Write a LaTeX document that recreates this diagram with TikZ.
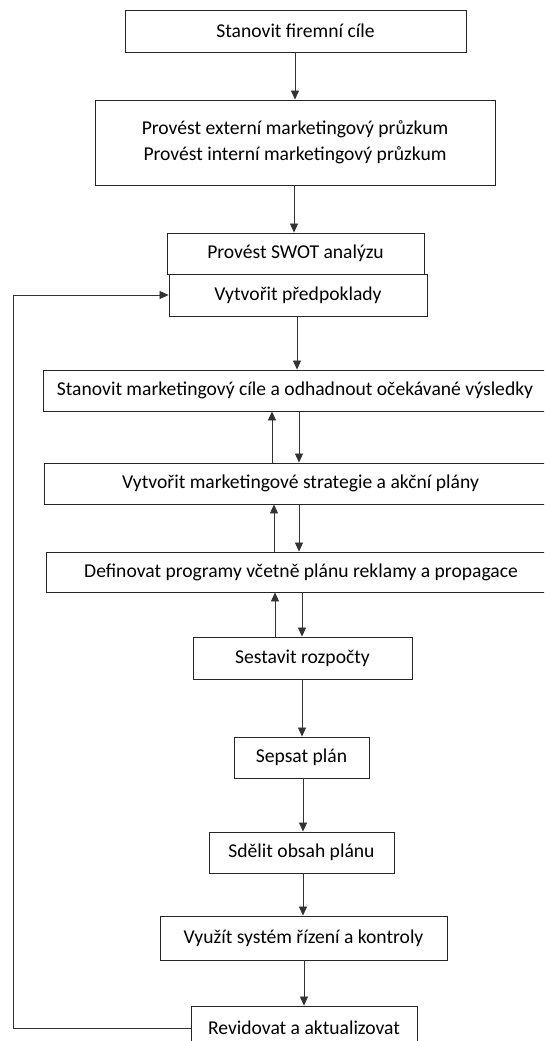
\documentclass[tikz,border=0pt]{standalone}
\usepackage{fontspec}
\setmainfont{Carlito}
\usetikzlibrary{arrows.meta}
\begin{document}
\begin{tikzpicture}[x=1pt,y=-1pt,
  box/.style={draw=black!85,line width=0.9pt,fill=white,inner sep=0pt,
    font=\fontsize{19.6}{26}\selectfont,align=center},
  arr/.style={draw=black!80,line width=0.8pt,-{Triangle[length=9pt,width=8pt]}},
  ln/.style={draw=black!80,line width=0.8pt}]
\clip (0,0) rectangle (544,1041);
\fill[white] (0,0) rectangle (544,1041);
% boxes: centre, width, height
\node[box,minimum width=341pt,minimum height=42pt] (b1) at (295.5,31) {Stanovit firemní cíle};
\node[box,minimum width=400pt,minimum height=85pt] (b2) at (295,142.5) {Provést externí marketingový průzkum\\Provést interní marketingový průzkum};
\node[box,minimum width=257pt,minimum height=41pt] (b3) at (295.5,253.5) {Provést SWOT analýzu};
\node[box,minimum width=258pt,minimum height=42pt] (b4) at (298,295) {Vytvořit předpoklady};
\node[box,minimum width=504pt,minimum height=41pt] (b5) at (295,390.5) {Stanovit marketingový cíle a odhadnout očekávané výsledky};
\node[box,minimum width=513pt,minimum height=41pt] (b6) at (300.5,483.5) {Vytvořit marketingové strategie a akční plány};
\node[box,minimum width=510pt,minimum height=40pt] (b7) at (301,572) {Definovat programy včetně plánu reklamy a propagace};
\node[box,minimum width=219pt,minimum height=42pt] (b8) at (302.5,658) {Sestavit rozpočty};
\node[box,minimum width=135pt,minimum height=41pt] (b9) at (301.5,757.5) {Sepsat plán};
\node[box,minimum width=185pt,minimum height=41pt] (b10) at (301.5,852.5) {Sdělit obsah plánu};
\node[box,minimum width=287pt,minimum height=44pt] (b11) at (303.5,938) {Využít systém řízení a kontroly};
\node[box,minimum width=226pt,minimum height=44pt] (b12) at (304,1028) {Revidovat a aktualizovat};
% connectors
\draw[arr] (b1.south -| 295,0) -- (b2.north -| 295,0);
\draw[arr] (b2.south -| 294,0) -- (b3.north -| 294,0);
\draw[arr] (b4.south -| 297,0) -- (b5.north -| 297,0);
\draw[arr] (b6.north -| 272,0) -- (b5.south -| 272,0);
\draw[arr] (b5.south -| 299,0) -- (b6.north -| 299,0);
\draw[arr] (b7.north -| 274,0) -- (b6.south -| 274,0);
\draw[arr] (b6.south -| 299,0) -- (b7.north -| 299,0);
\draw[arr] (b8.north -| 275,0) -- (b7.south -| 275,0);
\draw[arr] (b7.south -| 302,0) -- (b8.north -| 302,0);
\draw[arr] (b8.south -| 302,0) -- (b9.north -| 302,0);
\draw[arr] (b9.south -| 303,0) -- (b10.north -| 303,0);
\draw[arr] (b10.south -| 303,0) -- (b11.north -| 303,0);
\draw[arr] (b11.south -| 304,0) -- (b12.north -| 304,0);
\coordinate (loopx) at (13,0);
\draw[arr] (b12.west) -- (b12.west -| loopx) -- (b4.west -| loopx) -- (b4.west);
\end{tikzpicture}
\end{document}
